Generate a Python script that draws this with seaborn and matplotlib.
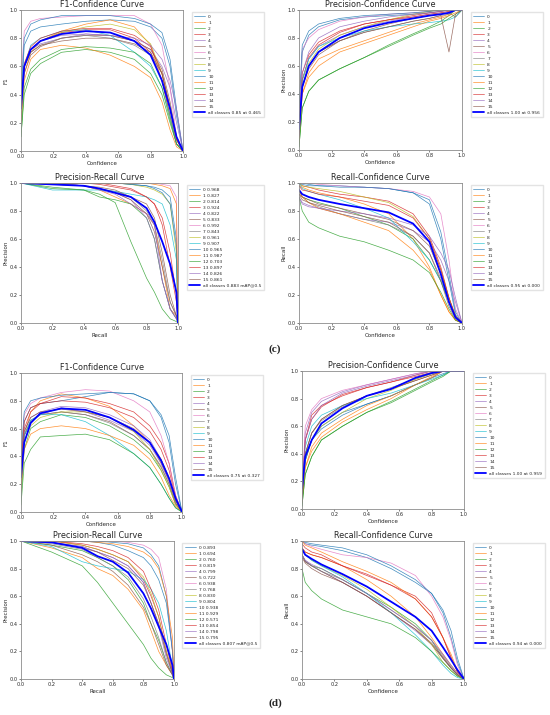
import matplotlib
matplotlib.use("Agg")
import matplotlib.pyplot as plt
import seaborn as sns

# x grids (confidence and recall) shared by the class curves
conf_x = [0, 0.02, 0.06, 0.12, 0.25, 0.4, 0.55, 0.7, 0.8, 0.87, 0.92, 0.96, 1.0]
recall_x = [0, 0.2, 0.4, 0.5, 0.6, 0.7, 0.8, 0.85, 0.9, 0.95, 0.99, 1.0]
class_names = [str(i) for i in range(16)]

# ---- (c) ----
f1_c = [
    [0.3, 0.75, 0.85, 0.88, 0.9, 0.92, 0.93, 0.92, 0.88, 0.8, 0.6, 0.25, 0],
    [0.2, 0.55, 0.7, 0.78, 0.85, 0.9, 0.93, 0.88, 0.75, 0.5, 0.25, 0.08, 0],
    [0.1, 0.4, 0.55, 0.62, 0.7, 0.72, 0.7, 0.65, 0.55, 0.4, 0.2, 0.05, 0],
    [0.3, 0.6, 0.72, 0.78, 0.84, 0.86, 0.86, 0.8, 0.7, 0.5, 0.25, 0.05, 0],
    [0.3, 0.6, 0.72, 0.76, 0.8, 0.83, 0.82, 0.78, 0.72, 0.6, 0.45, 0.2, 0],
    [0.3, 0.55, 0.68, 0.74, 0.8, 0.82, 0.82, 0.78, 0.72, 0.58, 0.35, 0.1, 0],
    [0.5, 0.85, 0.92, 0.94, 0.95, 0.96, 0.96, 0.96, 0.9, 0.75, 0.45, 0.1, 0],
    [0.3, 0.6, 0.7, 0.75, 0.8, 0.82, 0.8, 0.75, 0.68, 0.55, 0.3, 0.08, 0],
    [0.3, 0.6, 0.72, 0.78, 0.84, 0.88, 0.9, 0.86, 0.76, 0.55, 0.3, 0.08, 0],
    [0.3, 0.6, 0.75, 0.8, 0.85, 0.86, 0.82, 0.7, 0.6, 0.45, 0.25, 0.05, 0],
    [0.4, 0.8, 0.9, 0.93, 0.96, 0.96, 0.96, 0.94, 0.9, 0.84, 0.65, 0.3, 0],
    [0.2, 0.5, 0.65, 0.72, 0.75, 0.73, 0.68, 0.6, 0.52, 0.35, 0.15, 0.03, 0],
    [0.1, 0.45, 0.58, 0.65, 0.72, 0.74, 0.73, 0.7, 0.62, 0.45, 0.22, 0.05, 0],
    [0.3, 0.62, 0.74, 0.8, 0.85, 0.87, 0.87, 0.82, 0.74, 0.55, 0.3, 0.08, 0],
    [0.3, 0.6, 0.72, 0.78, 0.82, 0.83, 0.82, 0.8, 0.75, 0.65, 0.5, 0.3, 0],
    [0.3, 0.6, 0.7, 0.75, 0.78, 0.8, 0.8, 0.76, 0.7, 0.55, 0.32, 0.1, 0],
]
f1_c_all = [0.3, 0.6, 0.72, 0.78, 0.83, 0.85, 0.84, 0.78, 0.68, 0.5, 0.3, 0.1, 0]

p_c = [
    [0.1, 0.7, 0.82, 0.88, 0.93, 0.95, 0.96, 0.97, 0.98, 0.99, 1.0, 1.0, 1.0],
    [0.05, 0.4, 0.55, 0.65, 0.72, 0.78, 0.84, 0.9, 0.93, 0.95, 0.97, 1.0, 1.0],
    [0.02, 0.3, 0.42, 0.5, 0.58, 0.66, 0.75, 0.83, 0.88, 0.92, 0.96, 1.0, 1.0],
    [0.1, 0.5, 0.66, 0.75, 0.84, 0.9, 0.93, 0.96, 0.98, 0.99, 1.0, 1.0, 1.0],
    [0.1, 0.5, 0.65, 0.74, 0.82, 0.88, 0.92, 0.95, 0.97, 0.98, 0.99, 1.0, 1.0],
    [0.1, 0.45, 0.58, 0.68, 0.78, 0.85, 0.9, 0.94, 0.96, 0.97, 0.98, 0.95, 1.0],
    [0.2, 0.72, 0.8, 0.86, 0.92, 0.95, 0.97, 0.98, 0.99, 1.0, 1.0, 1.0, 1.0],
    [0.1, 0.45, 0.6, 0.7, 0.78, 0.84, 0.88, 0.92, 0.94, 0.96, 0.97, 1.0, 1.0],
    [0.1, 0.5, 0.62, 0.72, 0.82, 0.88, 0.93, 0.97, 0.99, 1.0, 1.0, 1.0, 1.0],
    [0.1, 0.5, 0.65, 0.74, 0.8, 0.85, 0.88, 0.9, 0.91, 0.92, 0.93, 0.95, 1.0],
    [0.3, 0.75, 0.85, 0.9, 0.94, 0.96, 0.97, 0.98, 0.99, 1.0, 1.0, 1.0, 1.0],
    [0.05, 0.4, 0.52, 0.6, 0.7, 0.76, 0.82, 0.88, 0.92, 0.94, 0.96, 0.98, 1.0],
    [0.02, 0.3, 0.42, 0.5, 0.58, 0.66, 0.74, 0.82, 0.87, 0.9, 0.94, 0.97, 1.0],
    [0.1, 0.55, 0.68, 0.77, 0.85, 0.9, 0.93, 0.95, 0.97, 0.98, 0.99, 1.0, 1.0],
    [0.1, 0.55, 0.7, 0.8, 0.88, 0.92, 0.95, 0.97, 0.98, 0.99, 1.0, 1.0, 1.0],
    [0.1, 0.45, 0.6, 0.7, 0.78, 0.84, 0.88, 0.92, 0.94, 0.96, 0.7, 0.97, 1.0],
]
p_c_all = [0.15, 0.45, 0.6, 0.7, 0.8, 0.87, 0.91, 0.94, 0.96, 0.97, 0.98, 1.0, 1.0]

pr_c = [
    [1, 1, 1, 1, 1, 0.99, 0.98, 0.97, 0.95, 0.9, 0.6, 0],
    [1, 1, 0.98, 0.95, 0.9, 0.85, 0.78, 0.7, 0.4, 0.1, 0.05, 0],
    [1, 0.97, 0.95, 0.9, 0.88, 0.85, 0.75, 0.6, 0.3, 0.1, 0.03, 0],
    [1, 1, 1, 1, 0.98, 0.96, 0.9, 0.85, 0.75, 0.5, 0.2, 0],
    [1, 1, 0.98, 0.96, 0.93, 0.88, 0.75, 0.6, 0.3, 0.1, 0.03, 0],
    [1, 0.99, 0.98, 0.96, 0.93, 0.88, 0.78, 0.65, 0.4, 0.15, 0.05, 0],
    [1, 1, 1, 1, 1, 1, 1, 1, 0.99, 0.98, 0.9, 0],
    [1, 1, 0.98, 0.96, 0.94, 0.9, 0.8, 0.7, 0.45, 0.15, 0.05, 0],
    [1, 1, 1, 1, 1, 0.99, 0.97, 0.95, 0.92, 0.85, 0.5, 0],
    [1, 0.95, 0.95, 0.95, 0.94, 0.92, 0.9, 0.88, 0.85, 0.7, 0.45, 0],
    [1, 1, 1, 1, 1, 0.99, 0.98, 0.96, 0.93, 0.85, 0.55, 0],
    [1, 1, 1, 1, 1, 1, 1, 0.99, 0.98, 0.96, 0.85, 0],
    [1, 0.96, 0.95, 0.92, 0.86, 0.58, 0.32, 0.22, 0.1, 0.03, 0.01, 0],
    [1, 1, 1, 0.99, 0.97, 0.95, 0.9, 0.85, 0.7, 0.4, 0.15, 0],
    [1, 1, 0.98, 0.95, 0.92, 0.85, 0.78, 0.7, 0.3, 0.1, 0.03, 0],
    [1, 0.99, 0.98, 0.97, 0.95, 0.9, 0.85, 0.75, 0.5, 0.2, 0.05, 0],
]
pr_c_ap = ["0.968", "0.827", "0.814", "0.924", "0.822", "0.833", "0.992", "0.843",
           "0.961", "0.907", "0.965", "0.987", "0.703", "0.897", "0.826", "0.861"]
pr_c_all = [1, 0.99, 0.98, 0.96, 0.93, 0.9, 0.82, 0.72, 0.58, 0.42, 0.22, 0]

r_c = [
    [1, 1, 0.99, 0.98, 0.98, 0.97, 0.96, 0.93, 0.88, 0.65, 0.35, 0.08, 0],
    [0.98, 0.97, 0.95, 0.93, 0.9, 0.85, 0.78, 0.6, 0.4, 0.2, 0.08, 0.02, 0],
    [0.95, 0.9, 0.88, 0.86, 0.82, 0.76, 0.7, 0.6, 0.45, 0.3, 0.15, 0.04, 0],
    [1, 0.98, 0.97, 0.95, 0.92, 0.9, 0.87, 0.78, 0.62, 0.4, 0.18, 0.05, 0],
    [0.9, 0.86, 0.84, 0.82, 0.78, 0.74, 0.72, 0.66, 0.58, 0.45, 0.3, 0.15, 0],
    [0.92, 0.9, 0.88, 0.85, 0.82, 0.78, 0.74, 0.66, 0.55, 0.35, 0.15, 0.04, 0],
    [1, 1, 1, 0.99, 0.98, 0.97, 0.96, 0.94, 0.9, 0.78, 0.45, 0.1, 0],
    [0.95, 0.9, 0.86, 0.83, 0.78, 0.74, 0.7, 0.62, 0.5, 0.32, 0.15, 0.04, 0],
    [1, 0.98, 0.97, 0.96, 0.94, 0.9, 0.86, 0.76, 0.6, 0.38, 0.18, 0.05, 0],
    [1, 0.96, 0.94, 0.92, 0.88, 0.82, 0.75, 0.58, 0.45, 0.3, 0.15, 0.04, 0],
    [1, 0.99, 0.98, 0.98, 0.97, 0.97, 0.96, 0.93, 0.85, 0.6, 0.3, 0.06, 0],
    [0.95, 0.9, 0.86, 0.82, 0.78, 0.72, 0.66, 0.52, 0.38, 0.2, 0.08, 0.02, 0],
    [0.9, 0.8, 0.72, 0.68, 0.62, 0.58, 0.52, 0.45, 0.36, 0.22, 0.1, 0.02, 0],
    [0.98, 0.95, 0.94, 0.92, 0.9, 0.87, 0.84, 0.75, 0.6, 0.38, 0.18, 0.05, 0],
    [0.9, 0.85, 0.83, 0.82, 0.8, 0.78, 0.75, 0.7, 0.62, 0.5, 0.38, 0.18, 0],
    [0.92, 0.88, 0.86, 0.84, 0.8, 0.76, 0.72, 0.62, 0.5, 0.3, 0.12, 0.03, 0],
]
r_c_all = [0.95, 0.92, 0.9, 0.88, 0.85, 0.82, 0.79, 0.71, 0.58, 0.35, 0.15, 0.04, 0]

# ---- (d) ----
f1_d = [
    [0.3, 0.65, 0.75, 0.78, 0.8, 0.83, 0.86, 0.85, 0.8, 0.68, 0.5, 0.2, 0],
    [0.2, 0.55, 0.72, 0.8, 0.85, 0.82, 0.76, 0.62, 0.5, 0.35, 0.22, 0.08, 0],
    [0.1, 0.45, 0.6, 0.65, 0.7, 0.68, 0.62, 0.52, 0.42, 0.3, 0.18, 0.06, 0],
    [0.3, 0.6, 0.72, 0.78, 0.83, 0.82, 0.78, 0.72, 0.62, 0.5, 0.35, 0.12, 0],
    [0.3, 0.55, 0.65, 0.7, 0.75, 0.72, 0.66, 0.58, 0.48, 0.35, 0.22, 0.08, 0],
    [0.3, 0.55, 0.65, 0.7, 0.72, 0.7, 0.65, 0.55, 0.45, 0.32, 0.2, 0.06, 0],
    [0.35, 0.7, 0.78, 0.82, 0.86, 0.88, 0.87, 0.8, 0.72, 0.55, 0.35, 0.12, 0],
    [0.3, 0.55, 0.66, 0.7, 0.72, 0.7, 0.64, 0.55, 0.45, 0.33, 0.2, 0.06, 0],
    [0.2, 0.5, 0.62, 0.68, 0.72, 0.72, 0.68, 0.58, 0.45, 0.3, 0.18, 0.05, 0],
    [0.25, 0.55, 0.66, 0.7, 0.7, 0.65, 0.55, 0.42, 0.32, 0.2, 0.1, 0.03, 0],
    [0.4, 0.72, 0.8, 0.82, 0.84, 0.85, 0.86, 0.85, 0.8, 0.7, 0.55, 0.25, 0],
    [0.15, 0.45, 0.56, 0.6, 0.62, 0.6, 0.55, 0.48, 0.38, 0.25, 0.12, 0.04, 0],
    [0.05, 0.35, 0.45, 0.54, 0.55, 0.56, 0.52, 0.42, 0.32, 0.2, 0.1, 0.03, 0],
    [0.3, 0.65, 0.75, 0.78, 0.8, 0.79, 0.75, 0.68, 0.58, 0.45, 0.3, 0.1, 0],
    [0.3, 0.58, 0.68, 0.72, 0.76, 0.75, 0.7, 0.62, 0.52, 0.38, 0.25, 0.08, 0],
    [0.3, 0.58, 0.68, 0.72, 0.74, 0.72, 0.68, 0.6, 0.5, 0.38, 0.24, 0.08, 0],
]
f1_d_all = [0.25, 0.5, 0.64, 0.71, 0.745, 0.735, 0.68, 0.59, 0.5, 0.37, 0.24, 0.1, 0]

p_d = [
    [0.05, 0.35, 0.5, 0.6, 0.7, 0.76, 0.82, 0.9, 0.95, 1, 1, 1, 1],
    [0.05, 0.3, 0.42, 0.52, 0.63, 0.72, 0.8, 0.9, 0.96, 1, 1, 1, 1],
    [0.02, 0.25, 0.38, 0.5, 0.6, 0.7, 0.78, 0.87, 0.93, 0.97, 1, 1, 1],
    [0.1, 0.5, 0.68, 0.75, 0.82, 0.88, 0.92, 0.97, 1, 1, 1, 1, 1],
    [0.1, 0.55, 0.7, 0.78, 0.85, 0.9, 0.94, 0.98, 1, 1, 1, 1, 1],
    [0.05, 0.4, 0.55, 0.65, 0.75, 0.82, 0.87, 0.93, 0.97, 1, 1, 1, 1],
    [0.1, 0.6, 0.72, 0.8, 0.86, 0.9, 0.94, 0.98, 1, 1, 1, 1, 1],
    [0.05, 0.4, 0.55, 0.64, 0.74, 0.82, 0.88, 0.94, 0.98, 1, 1, 1, 1],
    [0.05, 0.35, 0.5, 0.6, 0.7, 0.8, 0.86, 0.94, 0.98, 1, 1, 1, 1],
    [0.1, 0.45, 0.6, 0.68, 0.75, 0.8, 0.84, 0.9, 0.94, 0.97, 1, 1, 1],
    [0.05, 0.35, 0.5, 0.58, 0.68, 0.76, 0.82, 0.9, 0.95, 0.98, 1, 1, 1],
    [0.05, 0.3, 0.45, 0.55, 0.65, 0.75, 0.82, 0.9, 0.95, 1, 1, 1, 1],
    [0.02, 0.25, 0.38, 0.5, 0.6, 0.7, 0.77, 0.86, 0.92, 0.96, 1, 1, 1],
    [0.1, 0.5, 0.65, 0.74, 0.83, 0.88, 0.92, 0.96, 0.99, 1, 1, 1, 1],
    [0.1, 0.5, 0.65, 0.75, 0.84, 0.89, 0.93, 0.97, 1, 1, 1, 1, 1],
    [0.05, 0.4, 0.55, 0.65, 0.75, 0.82, 0.87, 0.93, 0.97, 1, 1, 1, 1],
]
p_d_all = [0.15, 0.38, 0.5, 0.62, 0.73, 0.82, 0.87, 0.95, 0.985, 1, 1, 1, 1]

pr_d = [
    [1, 1, 1, 0.99, 0.97, 0.93, 0.88, 0.82, 0.72, 0.55, 0.2, 0],
    [1, 0.95, 0.88, 0.8, 0.75, 0.65, 0.5, 0.35, 0.2, 0.1, 0.03, 0],
    [1, 0.97, 0.93, 0.88, 0.82, 0.72, 0.55, 0.4, 0.28, 0.12, 0.03, 0],
    [1, 1, 0.97, 0.94, 0.9, 0.85, 0.72, 0.6, 0.45, 0.2, 0.05, 0],
    [1, 0.99, 0.96, 0.92, 0.88, 0.82, 0.7, 0.55, 0.4, 0.18, 0.04, 0],
    [1, 0.97, 0.9, 0.85, 0.78, 0.68, 0.52, 0.4, 0.25, 0.1, 0.03, 0],
    [1, 1, 1, 1, 1, 0.99, 0.97, 0.94, 0.88, 0.65, 0.2, 0],
    [1, 0.98, 0.94, 0.88, 0.82, 0.74, 0.58, 0.45, 0.3, 0.12, 0.03, 0],
    [1, 1, 0.97, 0.94, 0.9, 0.85, 0.74, 0.62, 0.45, 0.2, 0.05, 0],
    [1, 0.96, 0.85, 0.82, 0.8, 0.78, 0.72, 0.65, 0.55, 0.35, 0.08, 0],
    [1, 1, 1, 1, 0.99, 0.98, 0.95, 0.9, 0.82, 0.6, 0.2, 0],
    [1, 1, 1, 0.99, 0.98, 0.96, 0.92, 0.88, 0.8, 0.6, 0.3, 0],
    [1, 0.92, 0.82, 0.7, 0.55, 0.4, 0.25, 0.15, 0.08, 0.03, 0.01, 0],
    [1, 1, 0.98, 0.96, 0.93, 0.88, 0.78, 0.65, 0.5, 0.25, 0.06, 0],
    [1, 0.99, 0.96, 0.92, 0.88, 0.82, 0.7, 0.55, 0.38, 0.15, 0.04, 0],
    [1, 0.99, 0.95, 0.92, 0.86, 0.8, 0.68, 0.55, 0.4, 0.18, 0.04, 0],
]
pr_d_ap = ["0.893", "0.694", "0.760", "0.819", "0.799", "0.722", "0.938", "0.768",
           "0.830", "0.804", "0.938", "0.929", "0.571", "0.854", "0.798", "0.795"]
pr_d_all = [1.0, 0.99, 0.95, 0.89, 0.85, 0.77, 0.62, 0.51, 0.38, 0.25, 0.1, 0]

r_d = [
    [1, 0.98, 0.97, 0.96, 0.93, 0.88, 0.8, 0.7, 0.62, 0.48, 0.3, 0.12, 0],
    [0.95, 0.92, 0.9, 0.88, 0.82, 0.72, 0.6, 0.45, 0.3, 0.18, 0.1, 0.04, 0],
    [0.9, 0.85, 0.82, 0.8, 0.72, 0.62, 0.52, 0.4, 0.28, 0.15, 0.08, 0.03, 0],
    [0.95, 0.92, 0.9, 0.88, 0.82, 0.75, 0.68, 0.6, 0.48, 0.3, 0.15, 0.05, 0],
    [0.9, 0.85, 0.82, 0.78, 0.7, 0.6, 0.48, 0.35, 0.25, 0.15, 0.08, 0.03, 0],
    [0.9, 0.85, 0.82, 0.78, 0.7, 0.6, 0.48, 0.36, 0.25, 0.15, 0.08, 0.03, 0],
    [1, 0.98, 0.96, 0.94, 0.9, 0.88, 0.84, 0.75, 0.6, 0.45, 0.28, 0.1, 0],
    [0.9, 0.86, 0.82, 0.78, 0.72, 0.62, 0.5, 0.38, 0.28, 0.17, 0.09, 0.03, 0],
    [0.95, 0.9, 0.86, 0.82, 0.75, 0.65, 0.52, 0.38, 0.25, 0.12, 0.06, 0.02, 0],
    [0.95, 0.9, 0.86, 0.82, 0.74, 0.62, 0.48, 0.32, 0.2, 0.1, 0.04, 0.01, 0],
    [1, 0.99, 0.98, 0.97, 0.95, 0.9, 0.82, 0.72, 0.62, 0.5, 0.35, 0.15, 0],
    [1, 0.97, 0.95, 0.92, 0.85, 0.78, 0.7, 0.58, 0.45, 0.3, 0.18, 0.06, 0],
    [0.8, 0.7, 0.64, 0.58, 0.5, 0.45, 0.4, 0.3, 0.2, 0.12, 0.06, 0.02, 0],
    [0.98, 0.95, 0.92, 0.9, 0.82, 0.76, 0.68, 0.58, 0.45, 0.3, 0.16, 0.05, 0],
    [0.9, 0.86, 0.83, 0.8, 0.72, 0.62, 0.5, 0.38, 0.28, 0.18, 0.1, 0.04, 0],
    [0.88, 0.84, 0.8, 0.76, 0.7, 0.6, 0.48, 0.36, 0.26, 0.16, 0.08, 0.03, 0],
]
r_d_all = [0.94, 0.9, 0.87, 0.83, 0.76, 0.67, 0.56, 0.45, 0.35, 0.23, 0.14, 0.065, 0]

sns.set_theme(style="white", rc={"axes.edgecolor": "#8c8c8c", "axes.linewidth": 0.6,
                                 "xtick.bottom": True, "ytick.left": True,
                                 "xtick.major.size": 1.5, "ytick.major.size": 1.5,
                                 "xtick.major.width": 0.4, "ytick.major.width": 0.4})
plt.rcParams["font.family"] = ["DejaVu Sans"]
palette = sns.color_palette("tab10")

fig = plt.figure(figsize=(5.5, 7.15), dpi=100)


def box(l, t, r, b):
    return [l / 550, 1 - b / 715, (r - l) / 550, (b - t) / 715]


def panel(pos, title, xlabel, ylabel, xs, curves, labels, all_y, all_label):
    ax = fig.add_axes(box(*pos))
    for i, ys in enumerate(curves):
        sns.lineplot(x=xs, y=ys, ax=ax, color=palette[i % 10], linewidth=0.5,
                     alpha=0.85, label=labels[i], sort=False)
    sns.lineplot(x=xs, y=all_y, ax=ax, color="blue", linewidth=1.3,
                 label=all_label, sort=False)
    ax.set_xlim(0, 1)
    ax.set_ylim(0, 1)
    ax.set_title(title, fontsize=5.8, pad=2)
    ax.set_xlabel(xlabel, fontsize=4, labelpad=1)
    ax.set_ylabel(ylabel, fontsize=4, labelpad=1)
    ax.tick_params(labelsize=3.6, pad=1)
    ax.legend(bbox_to_anchor=(1.04, 1), loc="upper left", fontsize=3.2,
              frameon=True, fancybox=False, edgecolor="#dddddd",
              handlelength=2.4, labelspacing=0.42, borderpad=0.6,
              handletextpad=0.7)
    return ax


cls = class_names
panel((21, 10, 183, 151), "F1-Confidence Curve", "Confidence", "F1", conf_x,
      f1_c, cls, f1_c_all, "all classes 0.85 at 0.465")
panel((299, 10, 462, 150), "Precision-Confidence Curve", "Confidence", "Precision", conf_x,
      p_c, cls, p_c_all, "all classes 1.00 at 0.956")
panel((21, 183, 178, 323), "Precision-Recall Curve", "Recall", "Precision", recall_x,
      pr_c, [f"{n} {a}" for n, a in zip(cls, pr_c_ap)], pr_c_all,
      "all classes 0.883 mAP@0.5")
panel((299, 183, 462, 323), "Recall-Confidence Curve", "Confidence", "Recall", conf_x,
      r_c, cls, r_c_all, "all classes 0.95 at 0.000")

panel((21, 373, 182, 512), "F1-Confidence Curve", "Confidence", "F1", conf_x,
      f1_d, cls, f1_d_all, "all classes 0.75 at 0.327")
panel((302, 371, 464, 509), "Precision-Confidence Curve", "Confidence", "Precision", conf_x,
      p_d, cls, p_d_all, "all classes 1.00 at 0.959")
panel((21, 541, 174, 679), "Precision-Recall Curve", "Recall", "Precision", recall_x,
      pr_d, [f"{n} {a}" for n, a in zip(cls, pr_d_ap)], pr_d_all,
      "all classes 0.807 mAP@0.5")
panel((302, 541, 464, 679), "Recall-Confidence Curve", "Confidence", "Recall", conf_x,
      r_d, cls, r_d_all, "all classes 0.94 at 0.000")

fig.text(0.5, 1 - 349 / 715, "(c)", ha="center", va="center", fontsize=8,
         fontweight="bold", family="Liberation Serif")
fig.text(0.5, 1 - 703 / 715, "(d)", ha="center", va="center", fontsize=8,
         fontweight="bold", family="Liberation Serif")

fig.savefig("out.png", dpi=100, facecolor="white")
